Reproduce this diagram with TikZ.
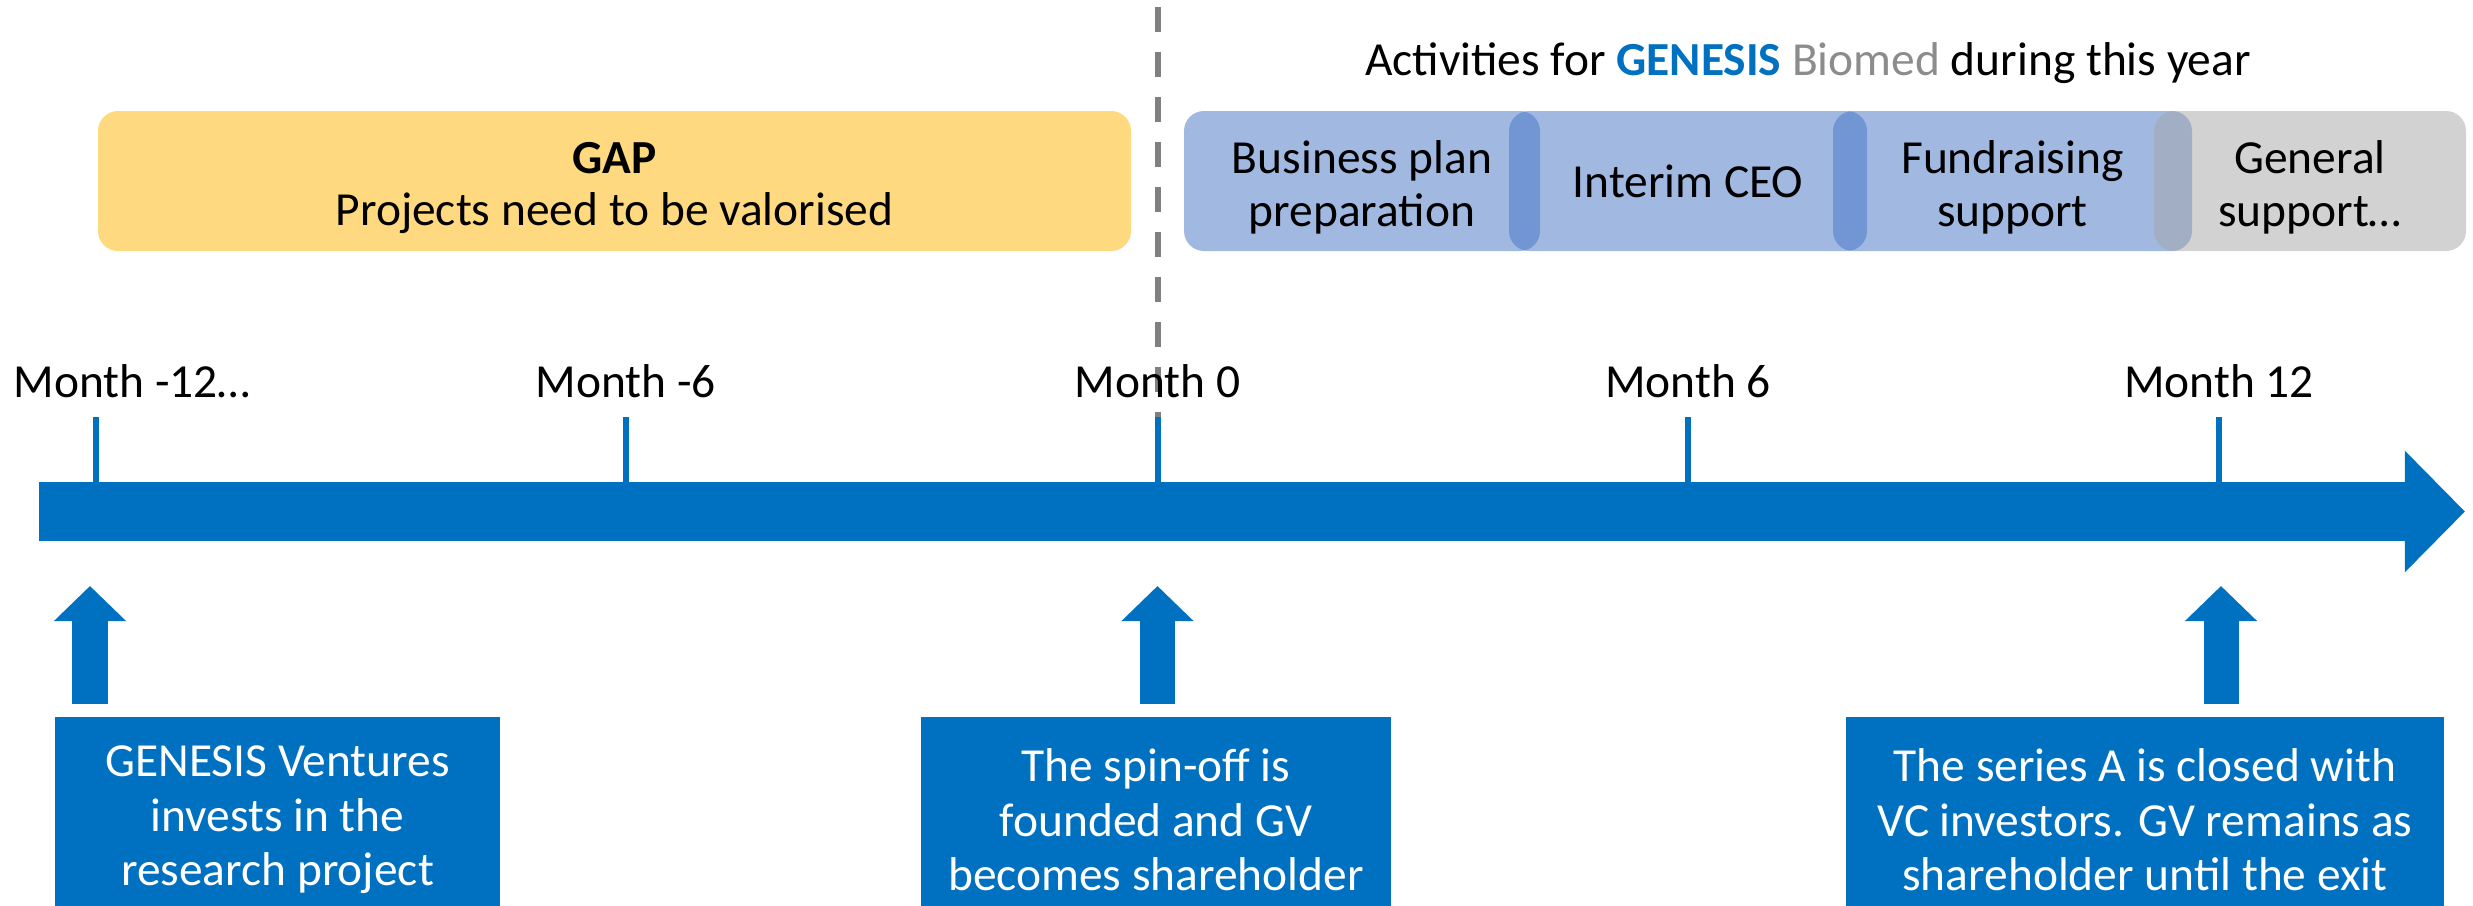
\documentclass[tikz,border=0pt]{standalone}
\usepackage{fontspec}
\setmainfont{Carlito}
\usepackage{xcolor}
\usepackage{tikz}
\usetikzlibrary{arrows.meta}
\usetikzlibrary{calc}

\definecolor{gvblue}{HTML}{0070C0}
\definecolor{actblue}{HTML}{4472C4}
\definecolor{actgray}{HTML}{A5A5A5}
\definecolor{gapyellow}{HTML}{FFD97F}
\definecolor{biogray}{HTML}{8C8C8C}
\definecolor{dashgray}{HTML}{808080}
\newcommand{\tlfont}{\fontsize{13.5pt}{15.5pt}\selectfont}
\newcommand{\boxfont}{\fontsize{13.5pt}{15pt}\selectfont}

\begin{document}
\begin{tikzpicture}[
	every node/.style={font=\tlfont},
	timeline/.style={line width=0.59cm, gvblue, -{Triangle[width=0pt 2, length=0pt 1.02]}},
	tickline/.style={line width=0.06cm, gvblue},
	monthline/.style={line width=0.06cm, dashgray, dash pattern=on 0.25cm off 0.2cm},
	uparrow/.style={line width=0.35cm, gvblue, -{Triangle[width=0pt 2, length=0pt 1]}},
	monthlabel/.style={anchor=base, inner sep=0pt},
	gapbox/.style={fill=gapyellow, rounded corners=0.2cm, minimum width=10.33cm, minimum height=1.40cm, inner sep=0pt, align=center, font=\boxfont, twoline},
	activity/.style={rounded corners=0.2cm, fill opacity=0.5, text opacity=1, minimum height=1.40cm, inner sep=0pt, align=center, font=\boxfont},
	twoline/.style={text height=0.98cm},
	eventbox/.style={fill=gvblue, text=white, align=center, minimum height=2.05cm, inner sep=0pt, anchor=south}
]
\useasboundingbox (0,0) rectangle (24.73,9.05);
\coordinate (S) at (0.39,3.935);
\coordinate (T) at (24.65,3.935);
\coordinate (A) at (0.96,4.23);
\coordinate (B) at (6.26,4.23);
\coordinate (C) at (11.575,4.23);
\coordinate (D) at (16.88,4.23);
\coordinate (E) at (22.19,4.23);
\coordinate (Z) at (11.575,8.98);
%\coordinate (Y) at (11.575,4.88);
\draw[monthline] (Z) -- ($(C)+(0,0.65)$);
\draw[timeline] (S) -- (T);
\draw[tickline] (A) -- ++(0,0.65);
\draw[tickline] (B) -- ++(0,0.65);
\draw[tickline] (C) -- ++(0,0.65);
\draw[tickline] (D) -- ++(0,0.65);
\draw[tickline] (E) -- ++(0,0.65);
\node[monthlabel, anchor=base west] (mA) at (0.13,5.08) {Month -12…};
\node[monthlabel] (mB) at ($(B)+(0,0.85)$) {Month -6};
\node[monthlabel] (mC) at ($(C)+(0,0.85)$) {Month 0};
\node[monthlabel] (mD) at ($(D)+(0,0.85)$) {Month 6};
\node[monthlabel] (mE) at ($(E)+(0,0.85)$) {Month 12};
% before month 0
\node[gapbox] (gap) at (6.145,7.24) {\textbf{GAP}\\Projects need to be valorised};
% after month 0
\node (title) at (18.08,8.42) {Activities for \textbf{\color{gvblue}GENESIS} {\color{biogray}Biomed} during this year};
\node[activity, twoline, fill=actblue, minimum width=3.56cm] (act1) at (13.62,7.24) {Business plan\\preparation};
\node[activity, fill=actblue, minimum width=3.58cm] (act2) at (16.88,7.24) {Interim CEO};
\node[activity, twoline, fill=actblue, minimum width=3.59cm] (act3) at (20.125,7.24) {Fundraising\\support};
\node[activity, twoline, fill=actgray, minimum width=3.12cm] (act4) at (23.10,7.24) {General\\support…};
% events below the bar
\node[eventbox, minimum width=4.45cm] (evA) at (2.775,-0.18) {GENESIS Ventures\\invests in the\\research project};
\node[eventbox, minimum width=4.70cm] (evB) at (11.56,-0.18) {The spin-off is\\founded and GV\\becomes shareholder};
\node[eventbox, minimum width=5.98cm] (evC) at (21.45,-0.18) {The series A is closed with\\VC investors. GV remains as\\shareholder until the exit};
\coordinate (pA) at (0.9,3.19);
\coordinate (pB) at (11.575,3.19);
\coordinate (pC) at (22.21,3.19);
\draw[uparrow] ($(pA |- evA.north)+(0,0.13)$) -- (pA);
\draw[uparrow] ($(pB |- evB.north)+(0,0.13)$) -- (pB);
\draw[uparrow] ($(pC |- evC.north)+(0,0.13)$) -- (pC);
\end{tikzpicture}
\end{document}
